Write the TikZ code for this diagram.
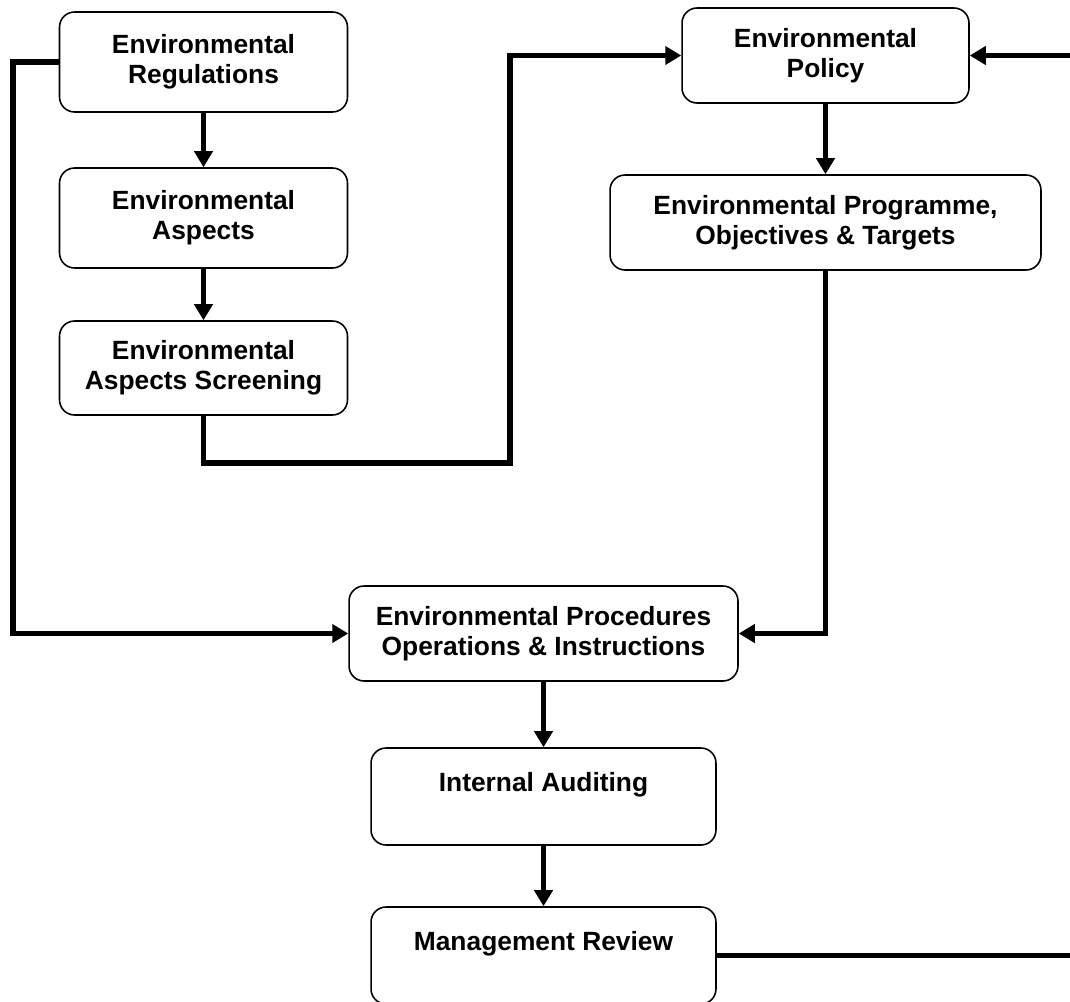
\documentclass[tikz,border=0pt]{standalone}
\usepackage{fontspec}
\setmainfont{Liberation Sans}
\usetikzlibrary{arrows.meta}
\tikzset{
  stage/.style={draw=black, fill=white, line width=0.9pt, rounded corners=0.3cm, align=center, inner sep=0pt, font=\bfseries\fontsize{15}{17}\selectfont},
  flowline/.style={line width=0.11cm, draw=black, line join=miter, -{Triangle[length=0.32cm, width=0.36cm]}},
  plainline/.style={line width=0.11cm, draw=black, line join=miter},
}

\begin{document}
\begin{tikzpicture}[x=0.02cm, y=-0.02cm]
\useasboundingbox (0,0) rectangle (1070,1001);
\node[stage, minimum width=5.76cm, minimum height=2.0cm] (reg) at (203.5,62) {Environmental\\Regulations};
\node[stage, minimum width=5.76cm, minimum height=2.0cm] (asp) at (203.5,218) {Environmental\\Aspects};
\node[stage, minimum width=5.76cm, minimum height=1.88cm] (scr) at (203.5,368) {Environmental\\Aspects Screening};
\node[stage, minimum width=5.74cm, minimum height=1.9cm] (pol) at (825.5,55.5) {Environmental\\Policy};
\node[stage, minimum width=8.62cm, minimum height=1.9cm] (prog) at (825.5,222.5) {Environmental Programme,\\Objectives \& Targets};
\node[stage, minimum width=7.78cm, minimum height=1.9cm] (proc) at (543.5,633.5) {Environmental Procedures\\Operations \& Instructions};
\node[stage, minimum width=6.9cm, minimum height=1.94cm] (aud) at (543.5,796.5) {Internal Auditing\\~};
\node[stage, minimum width=6.9cm, minimum height=1.94cm] (mgmt) at (543.5,955.5) {Management Review\\~};
\coordinate (lc) at (13,633.5);
\coordinate (sb) at (510,463);
\coordinate (rc) at (1076,55.5);
\draw[flowline] (reg) -- (asp);
\draw[flowline] (asp) -- (scr);
\draw[flowline] (scr.south) |- (sb) |- (pol.west);
\draw[flowline] (reg.west) -| (lc) -- (proc.west);
\draw[flowline] (pol) -- (prog);
\draw[flowline] (prog.south) |- (proc.east);
\draw[flowline] (proc) -- (aud);
\draw[flowline] (aud) -- (mgmt);
\draw[flowline] (mgmt.east) -| (rc) -- (pol.east);
\end{tikzpicture}
\end{document}
